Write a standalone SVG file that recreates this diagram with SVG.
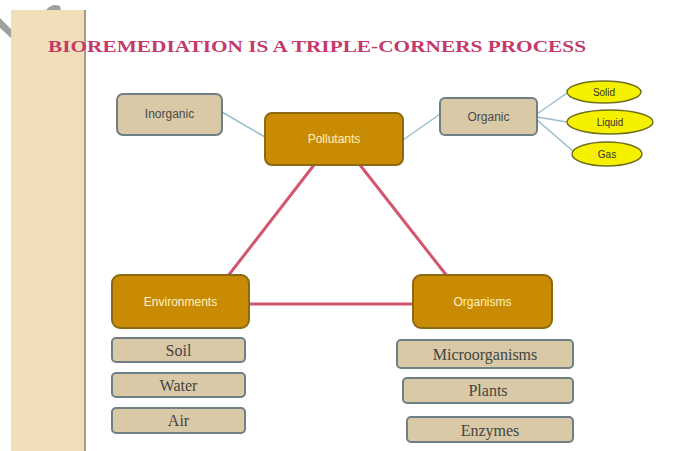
<svg xmlns="http://www.w3.org/2000/svg" width="673" height="451" viewBox="0 0 673 451">
<style>
.sans{font-family:"Liberation Sans",Arial,sans-serif;}
.serif{font-family:"Liberation Serif","Times New Roman",serif;}
.tan{fill:#d9c9a6;stroke:#6f7f86;stroke-width:2;}
.gold{fill:#c98b04;stroke:#8c6a14;stroke-width:2;}
.ell{fill:#f5f000;stroke:#707020;stroke-width:1.5;}
.thin{stroke:#9bbccc;stroke-width:1.5;fill:none;}
.tri{stroke:#d2566e;stroke-width:3;fill:none;}
.lbl{font-size:12px;fill:#4a4a4a;text-anchor:middle;}
.wlbl{font-size:12px;fill:#fff3c0;text-anchor:middle;}
.slbl{font-size:16px;fill:#444;text-anchor:middle;}
.ylbl{font-size:10px;fill:#333;text-anchor:middle;}
</style>
<rect width="673" height="451" fill="#ffffff"/>
<rect x="11" y="10" width="74" height="441" fill="#f0dfb8"/>
<line x1="85" y1="10" x2="85" y2="451" stroke="#a89a86" stroke-width="2"/>
<polygon points="0,18 11,29 11,38 0,28" fill="#a0a0a0"/>
<path d="M46,10 Q52,3 60,6 L61,10 Z" fill="#a0a0a0"/>
<text x="48" y="52" class="serif" font-size="17" font-weight="bold" fill="#c43a6a" textLength="538" lengthAdjust="spacingAndGlyphs">BIOREMEDIATION IS A TRIPLE-CORNERS PROCESS</text>
<g id="connectors">
<line class="thin" x1="222" y1="112" x2="265" y2="137"/>
<line class="thin" x1="403" y1="140" x2="440" y2="114"/>
<line class="thin" x1="537" y1="114" x2="567" y2="93"/>
<line class="thin" x1="537" y1="117" x2="567" y2="122"/>
<line class="thin" x1="537" y1="120" x2="574" y2="152"/>
<line class="tri" x1="314" y1="165" x2="228" y2="276"/>
<line class="tri" x1="360" y1="165" x2="447" y2="276"/>
<line class="tri" x1="249" y1="304" x2="413" y2="304"/>
</g>
<g id="inorganic"><rect class="tan" x="117" y="94" width="105" height="41" rx="6"/><text class="sans lbl" x="169.5" y="118">Inorganic</text></g>
<g id="pollutants"><rect class="gold" x="265" y="113" width="138" height="52" rx="7"/><text class="sans wlbl" x="334" y="143">Pollutants</text></g>
<g id="organic"><rect class="tan" x="440" y="98" width="97" height="37" rx="5"/><text class="sans lbl" x="488.5" y="121">Organic</text></g>
<g id="solid"><ellipse class="ell" cx="604" cy="92" rx="37" ry="11"/><text class="sans ylbl" x="604" y="96">Solid</text></g>
<g id="liquid"><ellipse class="ell" cx="610" cy="122" rx="43" ry="12"/><text class="sans ylbl" x="610" y="126">Liquid</text></g>
<g id="gas"><ellipse class="ell" cx="607" cy="154" rx="35" ry="12"/><text class="sans ylbl" x="607" y="158">Gas</text></g>
<g id="environments"><rect class="gold" x="112" y="275" width="137" height="53" rx="8"/><text class="sans wlbl" x="180.5" y="306">Environments</text></g>
<g id="soil"><rect class="tan" x="112" y="338" width="133" height="24" rx="4"/><text class="serif slbl" x="178.5" y="356">Soil</text></g>
<g id="water"><rect class="tan" x="112" y="373" width="133" height="24" rx="4"/><text class="serif slbl" x="178.5" y="391">Water</text></g>
<g id="air"><rect class="tan" x="112" y="408" width="133" height="25" rx="4"/><text class="serif slbl" x="178.5" y="426">Air</text></g>
<g id="organisms"><rect class="gold" x="413" y="275" width="139" height="53" rx="8"/><text class="sans wlbl" x="482.5" y="306">Organisms</text></g>
<g id="microorganisms"><rect class="tan" x="397" y="340" width="176" height="28" rx="4"/><text class="serif slbl" x="485" y="360">Microorganisms</text></g>
<g id="plants"><rect class="tan" x="403" y="378" width="170" height="25" rx="4"/><text class="serif slbl" x="488" y="396">Plants</text></g>
<g id="enzymes"><rect class="tan" x="407" y="417" width="166" height="25" rx="4"/><text class="serif slbl" x="490" y="436">Enzymes</text></g>
</svg>
